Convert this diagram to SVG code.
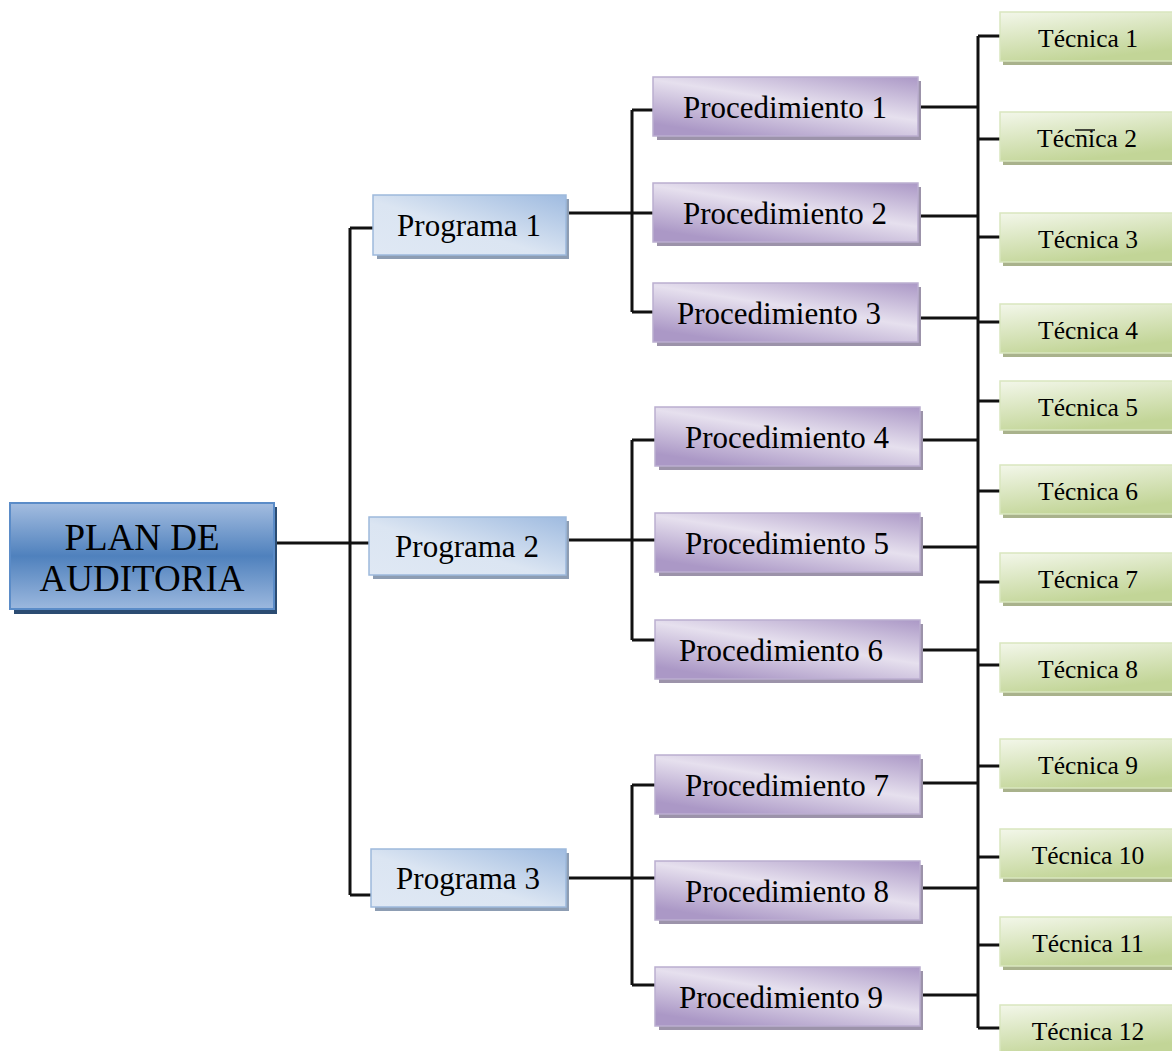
<svg xmlns="http://www.w3.org/2000/svg" width="1172" height="1051" viewBox="0 0 1172 1051">
<defs>
<linearGradient id="gPlan" x1="0" y1="0" x2="0" y2="1">
<stop offset="0" stop-color="#a4bde0"/><stop offset="0.5" stop-color="#4f81bd"/><stop offset="1" stop-color="#9cb8de"/>
</linearGradient>
<linearGradient id="gProg" x1="1" y1="0" x2="0" y2="1">
<stop offset="0" stop-color="#9fbbe0"/><stop offset="0.55" stop-color="#dbe5f2"/><stop offset="1" stop-color="#dfe8f4"/>
</linearGradient>
<linearGradient id="gProc" x1="1" y1="0" x2="0.3" y2="1">
<stop offset="0" stop-color="#ab98c6"/><stop offset="0.5" stop-color="#e6e0ee"/><stop offset="1" stop-color="#ab98c6"/>
</linearGradient>
<linearGradient id="gTec" x1="0" y1="0" x2="0.4" y2="1">
<stop offset="0" stop-color="#f3f7ea"/><stop offset="1" stop-color="#c2d597"/>
</linearGradient>
<style>
.sh1{fill:#2b4c72}
.sh2{fill:#8d9db3}
.sh3{fill:#9c93aa}
.sh4{fill:#a9b28c}
.plan{fill:url(#gPlan);stroke:#5b8cc8;stroke-width:2}
.prog{fill:url(#gProg);stroke:#9db9dc;stroke-width:1.5}
.proc{fill:url(#gProc);stroke:#bbaed0;stroke-width:1.5}
.tec{fill:url(#gTec);stroke:#d9e6bf;stroke-width:1.5}
text{font-family:"Liberation Serif","Times New Roman",serif;fill:#000;text-anchor:middle}
.t1{font-size:37px}
.t2{font-size:31px}
.t3{font-size:31px}
.t4{font-size:25.5px}
.c{fill:none;stroke:#111;stroke-width:3}
</style>
</defs>
<g id="connectors">
<path class="c" d="M275 543H370M350 228V895M350 228H373M350 895H372"/>
<path class="c" d="M567 213H655M632 110V312M632 110H653M632 312H653"/>
<path class="c" d="M567 540H655M632 440V640M632 440H655M632 640H655"/>
<path class="c" d="M567 878H655M632 785V985M632 785H655M632 985H655"/>
<path class="c" d="M978 36V1028"/>
<path class="c" d="M919 107H978M919 216H978M919 318H978M921 440H978M921 547H978M921 650H978M921 783H978M921 888H978M921 995H978"/>
<path class="c" d="M978 36H1000M978 139H1000M978 237H1000M978 322H1000M978 401H1000M978 491H1000M978 582H1000M978 665H1000M978 766H1000M978 857H1000M978 945H1000M978 1028H1000"/>
</g>
<g id="plan">
<rect class="sh1" x="14" y="507" width="263" height="107"/>
<rect class="plan" x="10" y="503" width="264" height="106"/>
<text class="t1" x="142" y="550">PLAN DE</text>
<text class="t1" x="142" y="591">AUDITORIA</text>
</g>
<g id="programa1">
<rect class="sh2" x="377" y="199" width="192" height="60"/>
<rect class="prog" x="373" y="195" width="193" height="60"/>
<text class="t2" x="469" y="236">Programa 1</text>
</g>
<g id="programa2">
<rect class="sh2" x="373" y="521" width="196" height="58"/>
<rect class="prog" x="369" y="517" width="197" height="58"/>
<text class="t2" x="467" y="557">Programa 2</text>
</g>
<g id="programa3">
<rect class="sh2" x="375" y="853" width="194" height="58"/>
<rect class="prog" x="371" y="849" width="195" height="58"/>
<text class="t2" x="468" y="889">Programa 3</text>
</g>
<g id="proc1">
<rect class="sh3" x="657" y="81" width="264" height="59"/>
<rect class="proc" x="653" y="77" width="265" height="59"/>
<text class="t3" x="785" y="118">Procedimiento 1</text>
</g>
<g id="proc2">
<rect class="sh3" x="657" y="187" width="264" height="59"/>
<rect class="proc" x="653" y="183" width="265" height="59"/>
<text class="t3" x="785" y="224">Procedimiento 2</text>
</g>
<g id="proc3">
<rect class="sh3" x="657" y="287" width="264" height="59"/>
<rect class="proc" x="653" y="283" width="265" height="59"/>
<text class="t3" x="779" y="324">Procedimiento 3</text>
</g>
<g id="proc4">
<rect class="sh3" x="659" y="411" width="264" height="59"/>
<rect class="proc" x="655" y="407" width="265" height="59"/>
<text class="t3" x="787" y="448">Procedimiento 4</text>
</g>
<g id="proc5">
<rect class="sh3" x="659" y="517" width="264" height="59"/>
<rect class="proc" x="655" y="513" width="265" height="59"/>
<text class="t3" x="787" y="554">Procedimiento 5</text>
</g>
<g id="proc6">
<rect class="sh3" x="659" y="624" width="264" height="59"/>
<rect class="proc" x="655" y="620" width="265" height="59"/>
<text class="t3" x="781" y="661">Procedimiento 6</text>
</g>
<g id="proc7">
<rect class="sh3" x="659" y="759" width="264" height="59"/>
<rect class="proc" x="655" y="755" width="265" height="59"/>
<text class="t3" x="787" y="796">Procedimiento 7</text>
</g>
<g id="proc8">
<rect class="sh3" x="659" y="865" width="264" height="59"/>
<rect class="proc" x="655" y="861" width="265" height="59"/>
<text class="t3" x="787" y="902">Procedimiento 8</text>
</g>
<g id="proc9">
<rect class="sh3" x="659" y="971" width="264" height="59"/>
<rect class="proc" x="655" y="967" width="265" height="59"/>
<text class="t3" x="781" y="1008">Procedimiento 9</text>
</g>
<g id="tec1"><rect class="sh4" x="1003" y="15" width="172" height="50"/><rect class="tec" x="1000" y="12" width="175" height="49"/><text class="t4" x="1088" y="47">Técnica 1</text></g>
<g id="tec2"><rect class="sh4" x="1003" y="115" width="172" height="50"/><rect class="tec" x="1000" y="112" width="175" height="49"/><text class="t4" x="1087" y="147">Técnica 2</text><line x1="1075" y1="130" x2="1095" y2="130" stroke="#111" stroke-width="1.5"/></g>
<g id="tec3"><rect class="sh4" x="1003" y="216" width="172" height="50"/><rect class="tec" x="1000" y="213" width="175" height="49"/><text class="t4" x="1088" y="248">Técnica 3</text></g>
<g id="tec4"><rect class="sh4" x="1003" y="307" width="172" height="50"/><rect class="tec" x="1000" y="304" width="175" height="49"/><text class="t4" x="1088" y="339">Técnica 4</text></g>
<g id="tec5"><rect class="sh4" x="1003" y="384" width="172" height="50"/><rect class="tec" x="1000" y="381" width="175" height="49"/><text class="t4" x="1088" y="416">Técnica 5</text></g>
<g id="tec6"><rect class="sh4" x="1003" y="468" width="172" height="50"/><rect class="tec" x="1000" y="465" width="175" height="49"/><text class="t4" x="1088" y="500">Técnica 6</text></g>
<g id="tec7"><rect class="sh4" x="1003" y="556" width="172" height="50"/><rect class="tec" x="1000" y="553" width="175" height="49"/><text class="t4" x="1088" y="588">Técnica 7</text></g>
<g id="tec8"><rect class="sh4" x="1003" y="646" width="172" height="50"/><rect class="tec" x="1000" y="643" width="175" height="49"/><text class="t4" x="1088" y="678">Técnica 8</text></g>
<g id="tec9"><rect class="sh4" x="1003" y="742" width="172" height="50"/><rect class="tec" x="1000" y="739" width="175" height="49"/><text class="t4" x="1088" y="774">Técnica 9</text></g>
<g id="tec10"><rect class="sh4" x="1003" y="832" width="172" height="50"/><rect class="tec" x="1000" y="829" width="175" height="49"/><text class="t4" x="1088" y="864">Técnica 10</text></g>
<g id="tec11"><rect class="sh4" x="1003" y="920" width="172" height="50"/><rect class="tec" x="1000" y="917" width="175" height="49"/><text class="t4" x="1088" y="952">Técnica 11</text></g>
<g id="tec12"><rect class="sh4" x="1003" y="1008" width="172" height="50"/><rect class="tec" x="1000" y="1005" width="175" height="49"/><text class="t4" x="1088" y="1040">Técnica 12</text></g>
</svg>
